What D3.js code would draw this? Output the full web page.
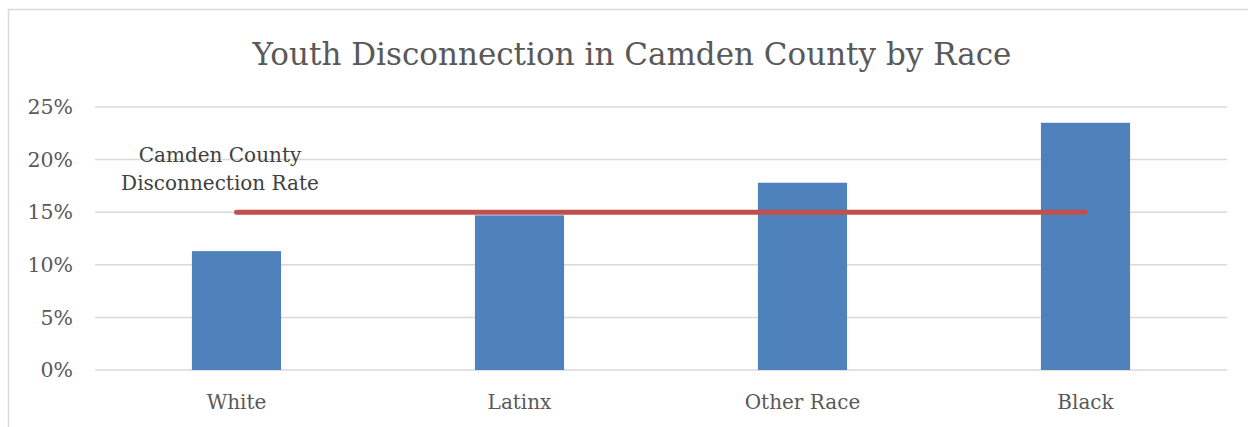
<!DOCTYPE html>
<html>
<head>
<meta charset="utf-8">
<script src="https://cdn.jsdelivr.net/npm/d3@7"></script>
<style>
  body { margin: 0; background: #fff; }
  text { font-family: "DejaVu Serif", "Liberation Serif", serif; fill: #595959; }
</style>
</head>
<body>
<script>
// chart data
var categories = ["White", "Latinx", "Other Race", "Black"];
var disconnection = [11.3, 14.7, 17.8, 23.5];
var countyRate = [15, 15, 15, 15];
var yTicks = [0, 5, 10, 15, 20, 25];

var W = 1248, H = 427;
var margin = {top: 107, right: 21, bottom: 57, left: 95},
    width = W - margin.left - margin.right,
    height = H - margin.top - margin.bottom;

var svg = d3.select("body").append("svg")
    .attr("width", W)
    .attr("height", H);

// outer chart border (only left and top visible)
svg.append("path")
    .attr("d", "M8.5," + H + "V9.5H" + W)
    .attr("fill", "none")
    .attr("stroke", "#d9d9d9")
    .attr("stroke-width", 1.5);

svg.append("text")
    .attr("x", 632)
    .attr("y", 65)
    .attr("text-anchor", "middle")
    .style("font-size", "31px")
    .text("Youth Disconnection in Camden County by Race");

var g = svg.append("g")
    .attr("transform", "translate(" + margin.left + "," + margin.top + ")");

var x = d3.scaleBand()
    .domain(categories)
    .range([0, width])
    .padding(0);

var y = d3.scaleLinear()
    .domain([0, 25])
    .range([height, 0]);

// gridlines
g.selectAll(".grid")
    .data(yTicks)
  .enter().append("line")
    .attr("class", "grid")
    .attr("x1", 0)
    .attr("x2", width)
    .attr("y1", function(d) { return y(d); })
    .attr("y2", function(d) { return y(d); })
    .attr("stroke", "#d9d9d9")
    .attr("stroke-width", 1.5);

// y tick labels
g.selectAll(".ylab")
    .data(yTicks)
  .enter().append("text")
    .attr("class", "ylab")
    .attr("x", -22)
    .attr("y", function(d) { return y(d); })
    .attr("dy", "0.35em")
    .attr("text-anchor", "end")
    .style("font-size", "20.5px")
    .text(function(d) { return d + "%"; });

// x labels
g.selectAll(".xlab")
    .data(categories)
  .enter().append("text")
    .attr("class", "xlab")
    .attr("x", function(d) { return x(d) + x.bandwidth() / 2; })
    .attr("y", height + 39)
    .attr("text-anchor", "middle")
    .style("font-size", "20px")
    .text(function(d) { return d; });

// bars
var barW = x.bandwidth() * 0.315;
g.selectAll(".bar")
    .data(disconnection)
  .enter().append("rect")
    .attr("class", "bar")
    .attr("x", function(d, i) { return x(categories[i]) + x.bandwidth() / 2 - barW / 2; })
    .attr("y", function(d) { return y(d); })
    .attr("width", barW)
    .attr("height", function(d) { return height - y(d); })
    .attr("fill", "#4f81bd");

// county rate line
var line = d3.line()
    .x(function(d, i) { return x(categories[i]) + x.bandwidth() / 2; })
    .y(function(d) { return y(d); });

g.append("path")
    .datum(countyRate)
    .attr("d", line)
    .attr("fill", "none")
    .attr("stroke", "#c0504d")
    .attr("stroke-width", 5)
    .attr("stroke-linecap", "round");

// annotation
var note = svg.append("text")
    .attr("x", 220)
    .attr("text-anchor", "middle")
    .style("font-size", "20px")
    .style("fill", "#404040");
note.append("tspan").attr("x", 220).attr("y", 162).text("Camden County");
note.append("tspan").attr("x", 220).attr("y", 190).text("Disconnection Rate");
</script>
</body>
</html>
